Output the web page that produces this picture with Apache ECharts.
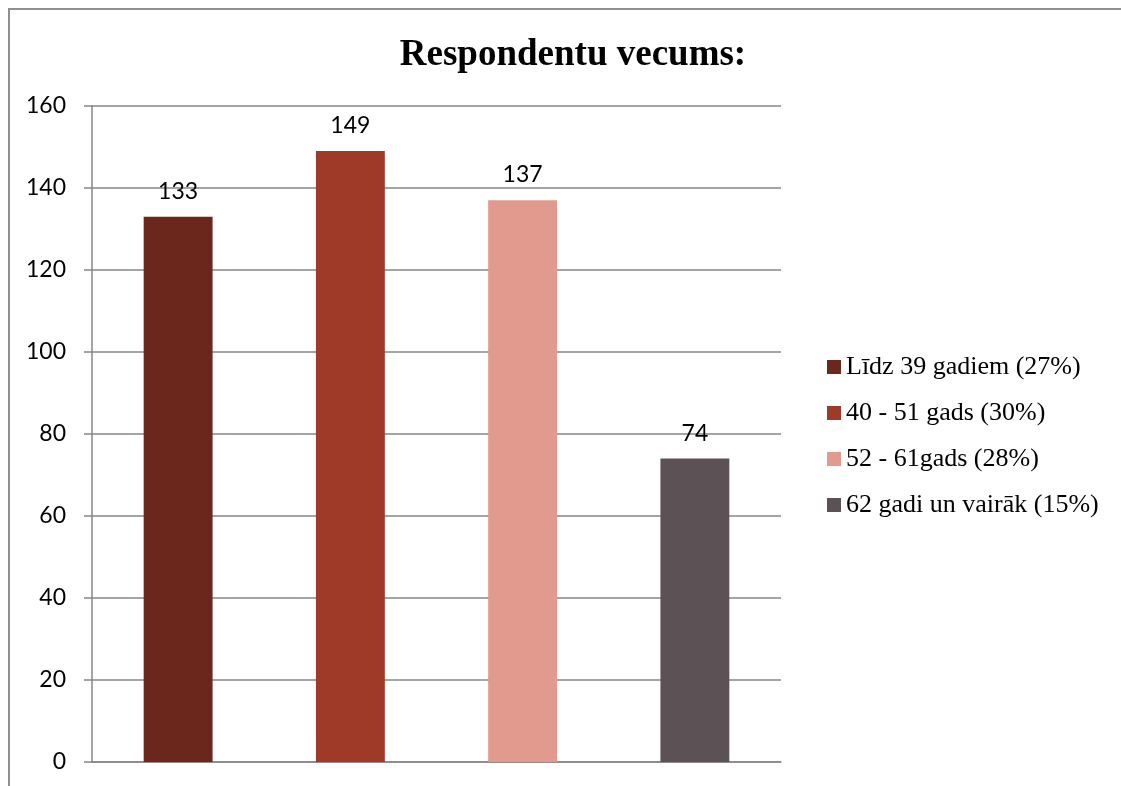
<!DOCTYPE html>
<html>
<head>
<meta charset="utf-8">
<script src="https://cdn.jsdelivr.net/npm/echarts@6/dist/echarts.min.js"></script>
<style>
html,body{margin:0;padding:0;background:#fff;}
#chart{width:1121px;height:786px;}
</style>
</head>
<body>
<div id="chart"></div>
<script>
const titleText = 'Respondentu vecums:';
const categories = ['Līdz 39 gadiem', '40 - 51 gads', '52 - 61gads', '62 gadi un vairāk'];
const seriesNames = ['Līdz 39 gadiem (27%)', '40 - 51 gads (30%)', '52 - 61gads (28%)', '62 gadi un vairāk (15%)'];
const values = [133, 149, 137, 74];
const colors = ['#6b271c', '#a03a28', '#e39a8e', '#5c5155'];
const yTicks = { min: 0, max: 160, interval: 20 };

const chart = echarts.init(document.getElementById('chart'), null, { renderer: 'canvas' });

const series = seriesNames.map((name, i) => ({
  name: name,
  type: 'bar',
  stack: 'one',
  barWidth: '40%',
  itemStyle: { color: colors[i] },
  label: {
    show: true,
    position: 'top',
    distance: 14,
    color: '#000',
    fontFamily: 'Lato',
    fontSize: 23
  },
  data: categories.map((c, j) => (j === i ? values[i] : '-'))
}));

chart.setOption({
  animation: false,
  backgroundColor: '#fff',
  color: colors,
  title: {
    text: titleText,
    left: 568,
    textAlign: 'center',
    top: 32,
    textStyle: {
      fontFamily: 'Liberation Serif',
      fontWeight: 'bold',
      fontSize: 37,
      color: '#000'
    }
  },
  graphic: [{
    type: 'rect',
    shape: { x: 9, y: 9, width: 1300, height: 1000 },
    style: { fill: 'none', stroke: '#8f8f8f', lineWidth: 2 },
    silent: true,
    z: -1
  }],
  legend: {
    orient: 'vertical',
    left: 822,
    top: 349,
    itemWidth: 14,
    itemHeight: 14,
    itemGap: 20,
    icon: 'rect',
    textStyle: {
      fontFamily: 'Liberation Serif',
      fontSize: 26,
      lineHeight: 26,
      color: '#000'
    },
    data: seriesNames
  },
  grid: {
    left: 92,
    right: 340,
    top: 106,
    bottom: 24,
    containLabel: false
  },
  xAxis: {
    type: 'category',
    data: categories,
    axisLine: { show: true, lineStyle: { color: '#868686', width: 1.5 } },
    axisTick: { show: false },
    axisLabel: { show: false },
    splitLine: { show: false }
  },
  yAxis: {
    type: 'value',
    min: yTicks.min,
    max: yTicks.max,
    interval: yTicks.interval,
    axisLine: { show: true, lineStyle: { color: '#868686', width: 1.5 } },
    axisTick: { show: true, length: 8, lineStyle: { color: '#868686', width: 1.5 } },
    axisLabel: {
      margin: 26,
      fontFamily: 'Lato',
      fontSize: 23,
      color: '#000'
    },
    splitLine: { show: true, lineStyle: { color: '#868686', width: 1.5 } }
  },
  series: series
});
</script>
</body>
</html>
